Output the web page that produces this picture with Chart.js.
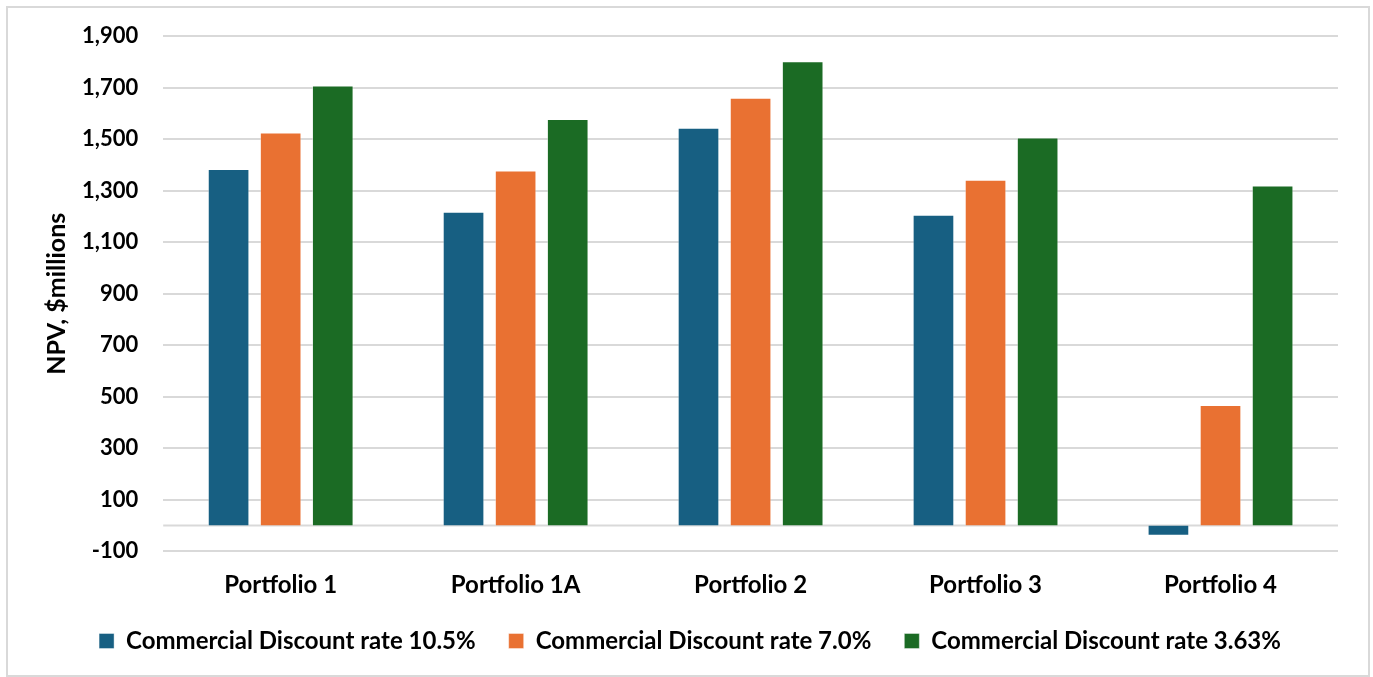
<!DOCTYPE html>
<html>
<head>
<meta charset="utf-8">
<script src="https://cdn.jsdelivr.net/npm/chart.js@4.4.1/dist/chart.umd.min.js"></script>
<style>
  html, body { margin: 0; padding: 0; background: #ffffff; }
  #wrap { position: absolute; left: 0; top: 0; width: 1373px; height: 677px; }
  #frame { position: absolute; left: 6px; top: 6px; width: 1364px; height: 671px; border: 2px solid #d9d9d9; box-sizing: border-box; pointer-events: none; }
  canvas { position: absolute; left: 0; top: 0; }
</style>
</head>
<body>
<div id="wrap">
  <canvas id="c" width="1373" height="677"></canvas>
  <div id="frame"></div>
</div>
<script>
const categories = ["Portfolio 1", "Portfolio 1A", "Portfolio 2", "Portfolio 3", "Portfolio 4"];
const seriesNames = ["Commercial Discount rate 10.5%", "Commercial Discount rate 7.0%", "Commercial Discount rate 3.63%"];
const rate105 = [1384, 1218, 1544, 1207, -40];
const rate70 = [1526, 1378, 1661, 1343, 468];
const rate363 = [1709, 1578, 1803, 1507, 1320];
const seriesColors = ["#175F82", "#E97132", "#1B6B24"];
const yMin = -100, yMax = 1900, yStep = 200;
const yTitle = "NPV, $millions";

const FONT = "Lato, 'Open Sans', sans-serif";

const zeroLine = {
  id: 'zeroLine',
  beforeDatasetsDraw(chart) {
    const y = chart.scales.y.getPixelForValue(0);
    const ctx = chart.ctx;
    ctx.save();
    ctx.strokeStyle = '#d9d9d9';
    ctx.lineWidth = 2;
    ctx.beginPath();
    ctx.moveTo(chart.chartArea.left, y);
    ctx.lineTo(chart.chartArea.right, y);
    ctx.stroke();
    ctx.restore();
  }
};

// Legend spacing: shrink the legend box a little and lift the items closer to the axis labels
const LEGEND_SHRINK = 2, LEGEND_LIFT = 16;
const legendTighten = {
  id: 'legendTighten',
  beforeUpdate(chart) {
    const lg = chart.legend;
    if (lg && !lg._tightened) {
      const origFit = lg.fit;
      lg.fit = function () { origFit.call(this); this.height = this.height - LEGEND_SHRINK; };
      lg._tightened = true;
    }
  },
  afterLayout(chart) {
    const lg = chart.legend;
    if (lg) { lg.top -= LEGEND_LIFT; lg.bottom -= LEGEND_LIFT; }
  }
};

new Chart(document.getElementById('c'), {
  type: 'bar',
  data: {
    labels: categories,
    datasets: [
      { label: seriesNames[0], data: rate105, backgroundColor: seriesColors[0] },
      { label: seriesNames[1], data: rate70, backgroundColor: seriesColors[1] },
      { label: seriesNames[2], data: rate363, backgroundColor: seriesColors[2] }
    ].map(d => Object.assign(d, { borderColor: 'rgba(255,255,255,0.4)', borderWidth: 1, barPercentage: 0.8, categoryPercentage: 0.665 }))
  },
  options: {
    responsive: false,
    animation: false,
    devicePixelRatio: 1,
    layout: { padding: { left: 42, right: 35, top: 14, bottom: 0 } },
    plugins: {
      legend: {
        position: 'bottom',
        labels: {
          boxWidth: 15, boxHeight: 15, padding: 33,
          color: '#000000',
          font: { family: FONT, size: 24, weight: 'bold' }
        }
      },
      tooltip: { enabled: false }
    },
    scales: {
      x: {
        grid: { display: false },
        border: { display: false },
        ticks: { color: '#000000', font: { family: FONT, size: 24, weight: 'bold' }, padding: 12 }
      },
      y: {
        min: yMin, max: yMax,
        grid: { color: '#d9d9d9', lineWidth: 2, drawTicks: false },
        border: { display: false },
        ticks: {
          stepSize: yStep,
          padding: 25,
          color: '#000000',
          font: { family: FONT, size: 22, weight: 'bold' },
          callback: v => v.toLocaleString('en-US')
        },
        title: {
          display: true, text: yTitle, color: '#000000',
          font: { family: FONT, size: 25, weight: 'bold' }, padding: { top: 0, bottom: 0 }
        },
        afterFit(scale) {
          scale.width = scale.width - 15;
          scale.paddingTop = scale.paddingTop - 2;
        }
      }
    }
  },
  plugins: [zeroLine, legendTighten]
});
</script>
</body>
</html>
